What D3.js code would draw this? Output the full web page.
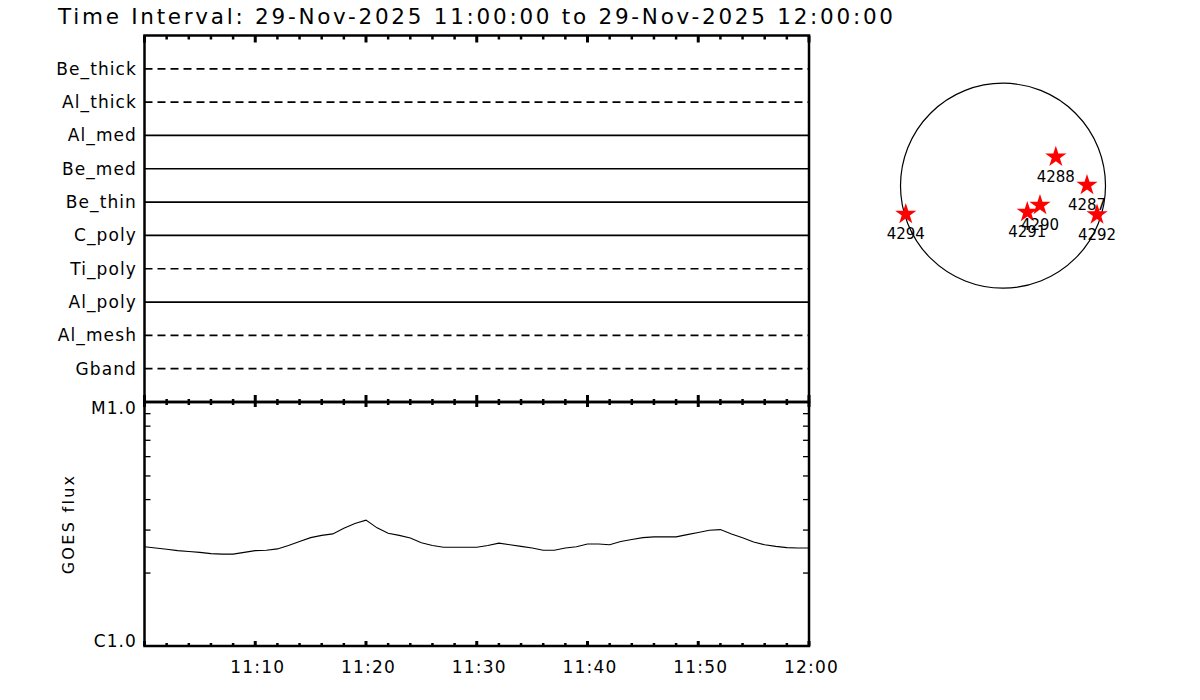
<!DOCTYPE html>
<html>
<head>
<meta charset="utf-8">
<script src="https://cdn.jsdelivr.net/npm/d3@7"></script>
<style>
body { margin: 0; background: #fff; }
text { font-family: "DejaVu Sans", sans-serif; fill: #000; }
</style>
</head>
<body>
<div id="chart"></div>
<script>
// filters shown in the top panel, 1 = data present (solid), 0 = none (dashed)
var filters = ["Be_thick", "Al_thick", "Al_med", "Be_med", "Be_thin", "C_poly", "Ti_poly", "Al_poly", "Al_mesh", "Gband"];
var hasData = [0, 0, 1, 1, 1, 1, 0, 1, 0, 0];

// GOES flux, one value per minute from 11:00 to 12:00 (units of 1e-6 W/m2)
var goesMinute = d3.range(0, 61);
var goesFlux = [2.55, 2.52, 2.49, 2.46, 2.44, 2.42, 2.39, 2.38, 2.38, 2.42,
  2.46, 2.47, 2.50, 2.58, 2.68, 2.78, 2.84, 2.88, 3.04, 3.18,
  3.28, 3.05, 2.90, 2.84, 2.77, 2.65, 2.58, 2.54, 2.54, 2.54,
  2.54, 2.58, 2.64, 2.60, 2.56, 2.52, 2.47, 2.47, 2.52, 2.55,
  2.62, 2.62, 2.60, 2.68, 2.73, 2.78, 2.80, 2.80, 2.80, 2.86,
  2.92, 2.98, 3.00, 2.88, 2.78, 2.67, 2.60, 2.56, 2.53, 2.52, 2.52];

var xTickLabels = ["11:10", "11:20", "11:30", "11:40", "11:50", "12:00"];
var yTickLabels = ["C1.0", "M1.0"];

// active regions on the disc (arcsec from disc centre)
var regions = ["4288", "4287", "4290", "4291", "4292", "4294"];
var regionX = [500, 795, 350, 230, 890, -920];
var regionY = [272, 5, -185, -250, -275, -270];

var startTime = new Date(2025, 10, 29, 11, 0, 0);
var endTime = new Date(2025, 10, 29, 12, 0, 0);

var pLeft = 144.5, pRight = 809, pTop = 35.5, pMid = 402, pBottom = 646;

var svg = d3.select("#chart").append("svg")
  .attr("width", 1200)
  .attr("height", 700);

svg.append("text")
  .attr("x", 58)
  .attr("y", 24)
  .attr("textLength", 835)
  .attr("lengthAdjust", "spacing")
  .style("font-size", "21.5px")
  .text("Time Interval: 29-Nov-2025 11:00:00 to 29-Nov-2025 12:00:00");

var x = d3.scaleTime().domain([startTime, endTime]).range([pLeft, pRight]);
var minorTicks = d3.timeMinute.every(2).range(startTime, d3.timeSecond.offset(endTime, 1));
var majorTicks = d3.timeMinute.every(10).range(startTime, d3.timeSecond.offset(endTime, 1));

// ---- top panel: filter coverage
var yf = d3.scalePoint().domain(filters).range([pTop, pMid]).padding(1);

svg.selectAll(".cover")
  .data(filters)
  .enter()
  .append("line")
  .attr("x1", x(startTime))
  .attr("x2", x(endTime) - 1)
  .attr("y1", function(d) { return yf(d); })
  .attr("y2", function(d) { return yf(d); })
  .attr("stroke", "#000")
  .attr("stroke-width", 1.7)
  .attr("stroke-dasharray", function(d, i) { return hasData[i] ? null : "8,5"; });

svg.selectAll(".flabel")
  .data(filters)
  .enter()
  .append("text")
  .attr("x", 137)
  .attr("y", function(d) { return yf(d) + 6; })
  .attr("text-anchor", "end")
  .style("font-size", "17px")
  .style("letter-spacing", "1.1px")
  .text(function(d) { return d; });

// time ticks for both panels
function timeTicks(y0, dir, minorLen, majorLen) {
  svg.append("g").selectAll("line")
    .data(minorTicks)
    .enter()
    .append("line")
    .attr("x1", function(d) { return x(d); })
    .attr("x2", function(d) { return x(d); })
    .attr("y1", y0)
    .attr("y2", function(d) {
      return y0 + dir * (d.getMinutes() % 10 === 0 ? majorLen : minorLen);
    })
    .attr("stroke", "#000")
    .attr("stroke-width", function(d) { return d.getMinutes() % 10 === 0 ? 3 : 2.5; });
}
timeTicks(pTop, 1, 4, 7);
timeTicks(pMid, -1, 3, 7);
timeTicks(pMid, 1, 3, 5);
timeTicks(pBottom, -1, 3, 5);

// ---- bottom panel: GOES flux
var yg = d3.scaleLog().domain([1e-6, 1e-5]).range([pBottom, pMid]);
var logTicks = d3.range(2, 10).map(function(v) { return v * 1e-6; });

svg.append("g")
  .attr("transform", "translate(" + pLeft + ",0)")
  .call(d3.axisRight(yg).tickValues(logTicks).tickSize(6).tickFormat(""))
  .call(function(g) { g.select(".domain").remove(); })
  .selectAll("line").attr("stroke-width", 1.3);

svg.append("g")
  .attr("transform", "translate(" + pRight + ",0)")
  .call(d3.axisLeft(yg).tickValues(logTicks).tickSize(6).tickFormat(""))
  .call(function(g) { g.select(".domain").remove(); })
  .selectAll("line").attr("stroke-width", 1.3);

svg.append("text")
  .attr("x", 137)
  .attr("y", yg(1e-6) + 1)
  .attr("text-anchor", "end")
  .style("font-size", "17px")
  .style("letter-spacing", "1.1px")
  .text(yTickLabels[0]);

svg.append("text")
  .attr("x", 137)
  .attr("y", yg(1e-5) + 12)
  .attr("text-anchor", "end")
  .style("font-size", "17px")
  .style("letter-spacing", "1.1px")
  .text(yTickLabels[1]);

svg.append("text")
  .attr("transform", "translate(74,524)rotate(-90)")
  .attr("text-anchor", "middle")
  .style("font-size", "16px")
  .style("letter-spacing", "2.3px")
  .text("GOES flux");

var line = d3.line()
  .x(function(d) { return x(d3.timeMinute.offset(startTime, d)); })
  .y(function(d, i) { return yg(goesFlux[i] * 1e-6); });

svg.append("path")
  .datum(goesMinute)
  .attr("d", line)
  .attr("fill", "none")
  .attr("stroke", "#000")
  .attr("stroke-width", 1.1);

// x axis labels
var xg = svg.append("g")
  .attr("transform", "translate(0," + pBottom + ")")
  .call(d3.axisBottom(x).tickValues(majorTicks.slice(1)).tickSize(0)
    .tickFormat(function(d, i) { return xTickLabels[i]; }));
xg.select(".domain").remove();
xg.selectAll("text")
  .attr("dy", null)
  .attr("y", 27)
  .attr("x", 2)
  .style("font-family", "DejaVu Sans, sans-serif")
  .style("font-size", "17px")
  .style("letter-spacing", "1.2px");

// frames
var frame = svg.append("g").attr("fill", "none").attr("stroke", "#000").attr("stroke-width", 2.5);
frame.append("rect").attr("x", pLeft).attr("y", pTop).attr("width", pRight - pLeft).attr("height", pMid - pTop);
frame.append("rect").attr("x", pLeft).attr("y", pMid).attr("width", pRight - pLeft).attr("height", pBottom - pMid);

// ---- solar disc with regions
var discR = 970;
var sx = d3.scaleLinear().domain([-discR, discR]).range([1003 - 102.5, 1003 + 102.5]);
var sy = d3.scaleLinear().domain([-discR, discR]).range([185.7 + 102.5, 185.7 - 102.5]);

svg.append("circle")
  .attr("cx", sx(0))
  .attr("cy", sy(0))
  .attr("r", sx(discR) - sx(0))
  .attr("fill", "none")
  .attr("stroke", "#000")
  .attr("stroke-width", 1.2);

svg.selectAll(".star")
  .data(regions)
  .enter()
  .append("path")
  .attr("d", d3.symbol(d3.symbolStar, 140))
  .attr("transform", function(d, i) { return "translate(" + sx(regionX[i]) + "," + sy(regionY[i]) + ")"; })
  .attr("fill", "#ff0000");

svg.selectAll(".rlabel")
  .data(regions)
  .enter()
  .append("text")
  .attr("x", function(d, i) { return sx(regionX[i]); })
  .attr("y", function(d, i) { return sy(regionY[i]) + 25; })
  .attr("text-anchor", "middle")
  .style("font-size", "15px")
  .text(function(d) { return d; });
</script>
</body>
</html>
